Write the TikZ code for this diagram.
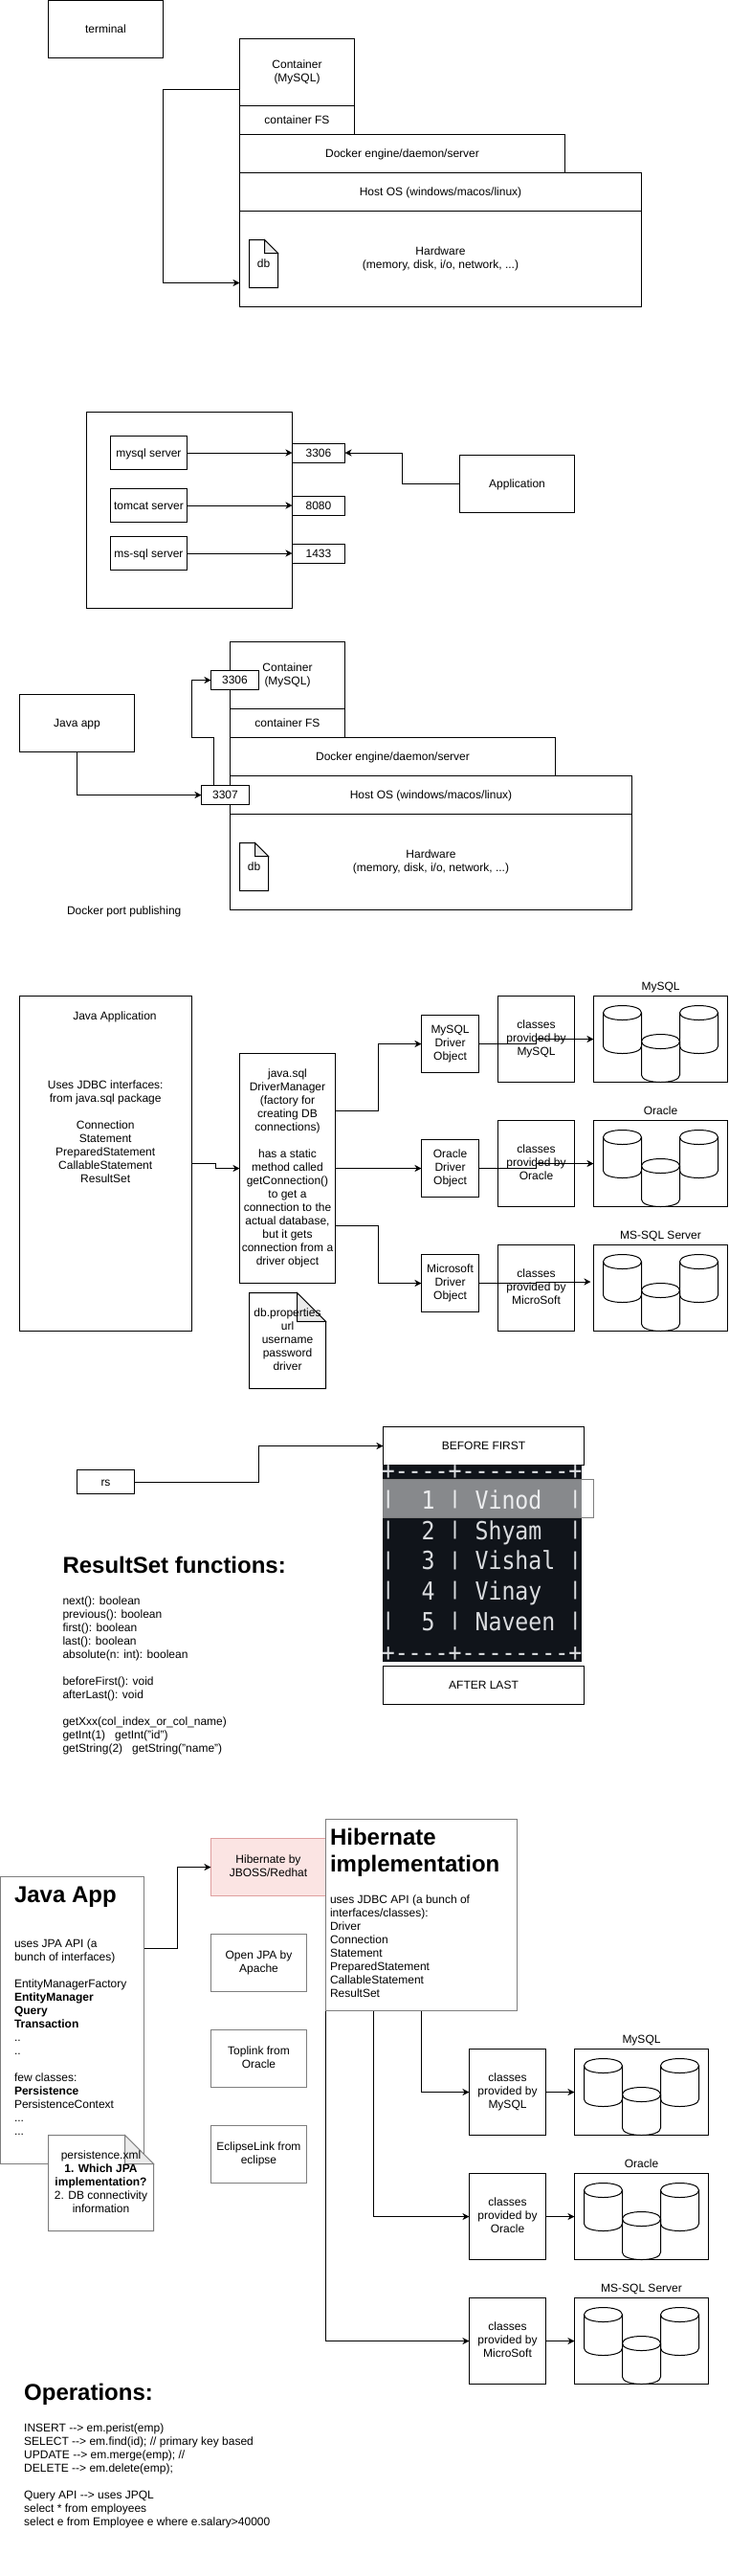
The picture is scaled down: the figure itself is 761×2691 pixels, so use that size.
\documentclass[tikz,border=0pt]{standalone}
\usepackage{fontspec}
\usepackage{graphicx}
\setmainfont{Liberation Sans}
\newfontfamily\termfont{DejaVu Sans Mono}
\usetikzlibrary{arrows.meta,calc}
\definecolor{grayline}{HTML}{7E7E7E}
\definecolor{pinkfill}{HTML}{FBE4E3}
\definecolor{pinkline}{HTML}{DF9F9F}
\definecolor{foldfill}{HTML}{EBEBEB}
\definecolor{termbg}{HTML}{10141A}
\definecolor{termfg}{HTML}{DADCDF}
\newcommand\tstrut{\vrule height 11.3pt depth 2.7pt width 0pt\relax}
\tikzset{
  boxst/.style={draw=black,fill=white,line width=1pt,inner sep=0pt,outer sep=0pt,align=center,
    font=\fontsize{12}{14}\selectfont,
    execute at begin node=\tstrut,execute at end node=\tstrut},
  grayst/.style={draw=grayline},
  pinkst/.style={draw=pinkline,fill=pinkfill},
  txt/.style={inner sep=0pt,outer sep=0pt,align=center,font=\fontsize{12}{14}\selectfont,
    execute at begin node=\tstrut,execute at end node=\tstrut},
  ltxt/.style={txt,anchor=west,align=left},
  head/.style={inner sep=0pt,outer sep=0pt,anchor=west,align=left,font=\fontsize{24}{28}\selectfont\bfseries},
  arr/.style={draw=black,line width=1pt,-{Stealth[length=7pt,width=7pt,inset=2pt]}},
  term/.style={inner sep=0pt,outer sep=0pt,anchor=base west,text=termfg,font=\termfont\fontsize{23.2}{28}\selectfont}
}
% [style]{name}{x0}{y0}{x1}{y1}{text}
\newcommand\bx[7][]{\node[boxst,#1,minimum width={(#5-#3)*1pt},minimum height={(#6-#4)*1pt}] (#2) at ({(#3+#5)/2},{(#4+#6)/2}) {#7};}
% [stroke]{name}{x0}{y0}{x1}{y1}{fold}{text}
\newcommand\nt[8][black]{%
  \draw[draw=#1,fill=white,line width=1pt] (#3,#4) -- ({#5-#7},#4) -- (#5,{#4+#7}) -- (#5,#6) -- (#3,#6) -- cycle;
  \draw[draw=#1,fill=foldfill,line width=1pt] ({#5-#7},#4) -- ({#5-#7},{#4+#7}) -- (#5,{#4+#7}) -- cycle;
  \node[txt] (#2) at ({(#3+#5)/2},{(#4+#6)/2}) {#8};}
\newcommand\cyl[2]{\draw[line width=1pt,fill=white,shift={(#1,#2)}]
  (0,7.5) .. controls (0,-2.5) and (40,-2.5) .. (40,7.5) -- (40,42.5) .. controls (40,52.5) and (0,52.5) .. (0,42.5) -- cycle
  (0,7.5) .. controls (0,17.5) and (40,17.5) .. (40,7.5);}
% {name}{x}{y}{label}
\newcommand\dbgroup[4]{%
  \bx{#1}{#2}{#3}{#2+140}{#3+90}{}
  \cyl{#2+10}{#3+10}\cyl{#2+90}{#3+10}\cyl{#2+50}{#3+40}
  \node[txt] (#1label) at ({#2+70},{#3-10}) {#4};}
\newcommand\pp{\raisebox{0.172em}{\scalebox{1}[0.729]{|}}}
\newcommand\trow[3]{\node[term] (#1) at (398.8,#2) {\scalebox{1}[1.12]{#3}};}
\newcommand\dsh{-{}-{}-{}-}
\begin{document}
\begin{tikzpicture}[x=1pt,y=-1pt]
\useasboundingbox (0,0) rectangle (761,2691);
\fill[white] (0,0) rectangle (761,2691);

% ---- section 1
\bx{terminal}{50.5}{0.5}{170.5}{60.5}{terminal}
\bx{contA}{250.5}{40.5}{370.5}{110.5}{Container\\(MySQL)}
\bx{fsA}{250.5}{110.5}{370.5}{140.5}{container FS}
\bx{dockerA}{250.5}{140.5}{590.5}{180.5}{Docker engine/daemon/server}
\bx{hostA}{250.5}{180.5}{670.5}{220.5}{Host OS (windows/macos/linux)}
\bx{hwA}{250.5}{220.5}{670.5}{320.5}{Hardware\\(memory, disk, i/o, network, ...)}
\nt{dbA}{260.5}{250.5}{290.5}{300.5}{14}{db}
\draw[arr] ([yshift=-17.5pt]contA.west) -- (170.5,93) -- (170.5,295.5) -- ([yshift=-25pt]hwA.west);

% ---- section 2
\bx{machine}{90.5}{430.5}{305.5}{635.5}{}
\bx{mysqlS}{115.5}{455.5}{195.5}{490.5}{mysql server}
\bx{tomcatS}{115.5}{510.5}{195.5}{545.5}{tomcat server}
\bx{mssqlS}{115.5}{560.5}{195.5}{595.5}{ms-sql server}
\bx{p3306}{305.5}{463}{360.5}{483}{3306}
\bx{p8080}{305.5}{518}{360.5}{538}{8080}
\bx{p1433}{305.5}{568}{360.5}{588}{1433}
\bx{application}{480.5}{475.5}{600.5}{535.5}{Application}
\draw[arr] (mysqlS.east) -- (p3306.west);
\draw[arr] (tomcatS.east) -- (p8080.west);
\draw[arr] (mssqlS.east) -- (p1433.west);
\draw[arr] (application.west) -- (420.5,505.5) -- (420.5,473) -- (p3306.east);

% ---- section 3
\bx{contB}{240.5}{670.5}{360.5}{740.5}{Container\\(MySQL)}
\bx{fsB}{240.5}{740.5}{360.5}{770.5}{container FS}
\bx{dockerB}{240.5}{770.5}{580.5}{810.5}{Docker engine/daemon/server}
\bx{hostB}{240.5}{810.5}{660.5}{850.5}{Host OS (windows/macos/linux)}
\bx{hwB}{240.5}{850.5}{660.5}{950.5}{Hardware\\(memory, disk, i/o, network, ...)}
\nt{dbB}{250.5}{880.5}{280.5}{930.5}{14}{db}
\bx{q3306}{220.5}{700.5}{270.5}{720.5}{3306}
\bx{q3307}{210.5}{820.5}{260.5}{840.5}{3307}
\bx{javaapp}{20.5}{725.5}{140.5}{785.5}{Java app}
\node[txt] (publishing) at (129.7,951) {Docker port publishing};
\draw[arr] (javaapp.south) |- (q3307.west);
\draw[arr] ([xshift=-12.5pt]q3307.north) -- (223,770.5) -- (200.5,770.5) -- (200.5,710.5) -- (q3306.west);

% ---- section 4
\bx{javaC}{20.5}{1040.5}{200.5}{1390.5}{}
\node[txt] (javaCt) at (120,1060.7) {Java Application};
\node[txt] (javaCb) at (110.2,1183.7) {Uses JDBC interfaces:\\from java.sql package\\~\\Connection\\Statement\\PreparedStatement\\CallableStatement\\ResultSet};
\bx{dm}{250.5}{1100.5}{350.5}{1340.5}{java.sql\\DriverManager\\(factory for\\creating DB\\connections)\\~\\has a static\\method called\\getConnection()\\to get a\\connection to the\\actual database,\\but it gets\\connection from a\\driver object}
\bx{drvA}{440.5}{1060.5}{500.5}{1120.5}{MySQL\\Driver\\Object}
\bx{drvB}{440.5}{1190.5}{500.5}{1250.5}{Oracle\\Driver\\Object}
\bx{drvC}{440.5}{1310.5}{500.5}{1370.5}{Microsoft\\Driver\\Object}
\bx{clsA}{520.5}{1040.5}{600.5}{1130.5}{classes\\provided by\\MySQL}
\bx{clsB}{520.5}{1170.5}{600.5}{1260.5}{classes\\provided by\\Oracle}
\bx{clsC}{520.5}{1300.5}{600.5}{1390.5}{classes\\provided by\\MicroSoft}
\dbgroup{dbgA}{620.5}{1040.5}{MySQL}
\dbgroup{dbgB}{620.5}{1170.5}{Oracle}
\dbgroup{dbgC}{620.5}{1300.5}{MS-SQL Server}
\nt{dbprops}{260.5}{1350.5}{340.5}{1450.5}{30}{db.properties\\url\\username\\password\\driver}
\draw[arr] (javaC.east) -- ++(25,0) |- (dm.west);
\draw[arr] ([yshift=60pt]dm.east) -- (395.5,1160.5) |- (drvA.west);
\draw[arr] (dm.east) -- (drvB.west);
\draw[arr] ([yshift=-60pt]dm.east) -- (395.5,1280.5) |- (drvC.west);
\draw[arr] (drvA.east) -- ++(60,0) |- (dbgA.west);
\draw[arr] (drvB.east) -- ++(60,0) |- (dbgB.west);
\draw[arr] (drvC.east) -- ++(60,0) |- ([xshift=-3pt,yshift=6.5pt]dbgC.west);

% ---- section 5
\bx{before}{400.5}{1490.5}{610.5}{1530.5}{BEFORE FIRST}
\fill[termbg] (400,1530) rectangle (608,1736);
\trow{rowtop}{1545}{+\dsh+\dsh{}-{}-{}-{}-+}
\trow{rowa}{1576}{\pp~~1~\pp~Vinod~~\pp}
\trow{rowb}{1608}{\pp~~2~\pp~Shyam~~\pp}
\trow{rowc}{1639.5}{\pp~~3~\pp~Vishal~\pp}
\trow{rowd}{1671}{\pp~~4~\pp~Vinay~~\pp}
\trow{rowe}{1703}{\pp~~5~\pp~Naveen~\pp}
\trow{rowbot}{1735}{+\dsh+\dsh{}-{}-{}-{}-+}
\draw[draw=grayline,line width=1pt,fill=white,fill opacity=0.5] (400.5,1545.5) rectangle (620.5,1585.5);
\bx{after}{400.5}{1740.5}{610.5}{1780.5}{AFTER LAST}
\bx{rs}{80.5}{1535.5}{140.5}{1560.5}{rs}
\draw[arr] (rs.east) -- (270.5,1548) -- (270.5,1510.5) -- (before.west);
\node[head] (rsHead) at (65.5,1635.3) {ResultSet functions:};
\node[ltxt] (rsBody) at (65.5,1750) {next(): boolean\\previous(): boolean\\first(): boolean\\last(): boolean\\absolute(n: int): boolean\\~\\beforeFirst(): void\\afterLast(): void\\~\\getXxx(col\_index\_or\_col\_name)\\getInt(1) \ \ getInt("id")\\getString(2) \ \ getString("name")};

% ---- section 6
\bx[grayst]{javaD}{0.5}{1960.5}{150.5}{2260.5}{}
\node[head] (javaDh) at (15,1981.4) {Java App};
\node[ltxt] (javaDb) at (15,2129) {uses JPA API (a\\bunch of interfaces)\\~\\EntityManagerFactory\\\textbf{EntityManager}\\\textbf{Query}\\\textbf{Transaction}\\..\\..\\~\\few classes:\\\textbf{Persistence}\\PersistenceContext\\...\\...};
\nt[grayline]{persist}{50.5}{2230.5}{160.5}{2330.5}{30}{persistence.xml\\\textbf{1. Which JPA}\\\textbf{implementation?}\\2. DB connectivity\\information}
\bx[pinkst]{hibA}{220.5}{1920.5}{340.5}{1980.5}{Hibernate by\\JBOSS/Redhat}
\bx[grayst]{openjpa}{220.5}{2020.5}{320.5}{2080.5}{Open JPA by\\Apache}
\bx[grayst]{toplink}{220.5}{2120.5}{320.5}{2180.5}{Toplink from\\Oracle}
\bx[grayst]{eclipselink}{220.5}{2220.5}{320.5}{2280.5}{EclipseLink from\\eclipse}
\bx[grayst]{impl}{340.5}{1900.5}{540.5}{2100.5}{}
\node[head] (implh) at (345,1935.4) {Hibernate\\implementation};
\node[ltxt] (implb) at (345,2034) {uses JDBC API (a bunch of\\interfaces/classes):\\Driver\\Connection\\Statement\\PreparedStatement\\CallableStatement\\ResultSet};
\bx{clsD}{490.5}{2140.5}{570.5}{2230.5}{classes\\provided by\\MySQL}
\bx{clsE}{490.5}{2270.5}{570.5}{2360.5}{classes\\provided by\\Oracle}
\bx{clsF}{490.5}{2400.5}{570.5}{2490.5}{classes\\provided by\\MicroSoft}
\dbgroup{dbgD}{600.5}{2140.5}{MySQL}
\dbgroup{dbgE}{600.5}{2270.5}{Oracle}
\dbgroup{dbgF}{600.5}{2400.5}{MS-SQL Server}
\draw[arr] ([yshift=75pt]javaD.east) -- (185.5,2035.5) |- (hibA.west);
\draw[arr] (impl.south) |- (clsD.west);
\draw[arr] ([xshift=-50pt]impl.south) |- (clsE.west);
\draw[arr] (impl.south west) |- (clsF.west);
\draw[arr] (clsD.east) -- (dbgD.west);
\draw[arr] (clsE.east) -- (dbgE.west);
\draw[arr] (clsF.east) -- (dbgF.west);
\node[head] (opsH) at (25.2,2501) {Operations:};
\node[ltxt] (opsB) at (25.2,2586) {INSERT -{}-> em.perist(emp)\\SELECT -{}-> em.find(id); // primary key based\\UPDATE -{}-> em.merge(emp); //\\DELETE -{}-> em.delete(emp);\\~\\Query API -{}-> uses JPQL\\select * from employees\\select e from Employee e where e.salary>40000};
\end{tikzpicture}
\end{document}
